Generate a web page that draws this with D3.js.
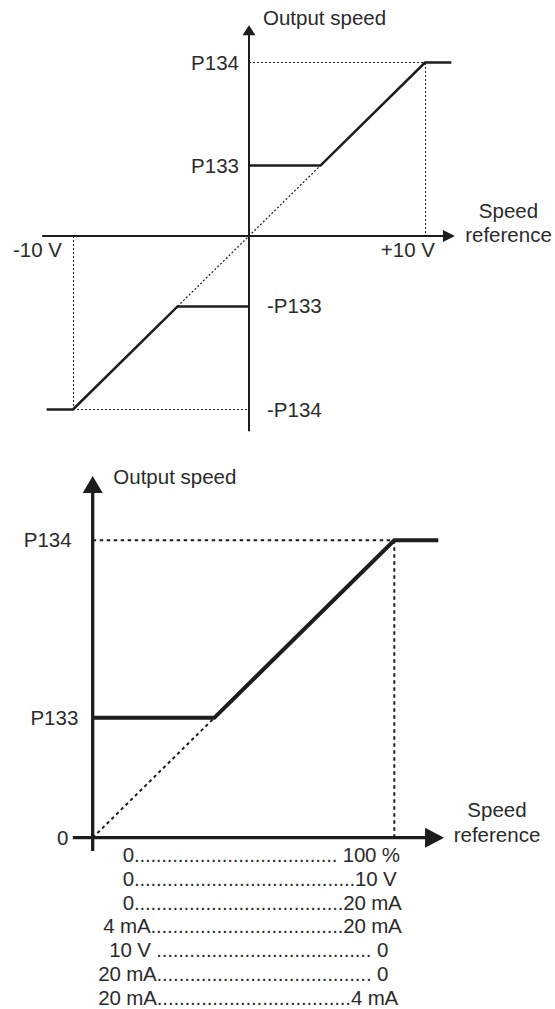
<!DOCTYPE html>
<html>
<head>
<meta charset="utf-8">
<script src="https://cdn.jsdelivr.net/npm/d3@7"></script>
<style>
  html, body { margin: 0; padding: 0; background: #fff; }
  svg { display: block; }
  text { font-family: "Liberation Sans", Arial, sans-serif; font-size: 20.5px; fill: #2b2b2b; }
</style>
</head>
<body>
<svg id="chart" width="555" height="1009"></svg>
<script>
// ---- Bipolar reference (-10 V ... +10 V) ----
// output speed in % of P134, reference in volts
const bipolarPositive = [
  { x: 0, y: 40.6 }, { x: 4.06, y: 40.6 }, { x: 10, y: 100 }, { x: 11.5, y: 100 }
];
const bipolarNegative = [
  { x: -11.5, y: -100 }, { x: -10, y: -100 }, { x: -4.06, y: -40.6 }, { x: 0, y: -40.6 }
];
const bipolarIdeal = [ { x: -4.06, y: -40.6 }, { x: 4.06, y: 40.6 } ];
const bipolarGuides = [
  [ { x: 0, y: 100 }, { x: 10, y: 100 } ],
  [ { x: 10, y: 100 }, { x: 10, y: 0 } ],
  [ { x: -10, y: 0 }, { x: -10, y: -100 } ],
  [ { x: -10, y: -100 }, { x: 0, y: -100 } ]
];
const bipolarYLabels = [
  { v: 100, text: "P134", side: "left" },
  { v: 40.6, text: "P133", side: "left" },
  { v: -40.6, text: "-P133", side: "right" },
  { v: -100, text: "-P134", side: "right" }
];
const bipolarXLabels = [ { v: -10, text: "-10 V" }, { v: 10, text: "+10 V" } ];

// ---- Unipolar reference (0 ... 100 %) ----
const unipolarCurve = [
  { x: 0, y: 40.3 }, { x: 40.3, y: 40.3 }, { x: 100, y: 100 }, { x: 114.6, y: 100 }
];
const unipolarIdeal = [ { x: 0, y: 0 }, { x: 40.3, y: 40.3 } ];
const unipolarGuides = [
  [ { x: 0, y: 100 }, { x: 100, y: 100 } ],
  [ { x: 100, y: 100 }, { x: 100, y: 0 } ]
];
const unipolarYLabels = [ { v: 100, text: "P134" }, { v: 40.3, text: "P133" }, { v: 0, text: "0" } ];
const rangeRows = [
  "0..................................... 100 %",
  "0........................................10 V",
  "0......................................20 mA",
  "4 mA...................................20 mA",
  "10 V ....................................... 0",
  "20 mA....................................... 0",
  "20 mA...................................4 mA"
];

const svg = d3.select("#chart");
const ink = "#1e1c1d";

// ================= bipolar chart =================
const x1 = d3.scaleLinear().domain([-10, 10]).range([73, 425]);
const y1 = d3.scaleLinear().domain([-100, 100]).range([409.5, 62.5]);
const line1 = d3.line().x(d => x1(d.x)).y(d => y1(d.y));
const g1 = svg.append("g");

// dotted guides
g1.selectAll("path.guide").data(bipolarGuides).join("path")
  .attr("class", "guide").attr("d", line1)
  .attr("fill", "none").attr("stroke", ink).attr("stroke-width", 1)
  .attr("stroke-dasharray", "2,2").attr("shape-rendering", "crispEdges");
g1.append("path").datum(bipolarIdeal).attr("d", line1)
  .attr("fill", "none").attr("stroke", ink).attr("stroke-width", 1.2)
  .attr("stroke-dasharray", "2,2");

// axes
const ax1 = { xMin: -11.75, xTip: 11.7, yMin: -112.5, yTip: 121.5 };
const ox1 = x1(0), oy1 = y1(0);
g1.append("line").attr("x1", x1(ax1.xMin)).attr("x2", x1(ax1.xTip) - 11)
  .attr("y1", oy1).attr("y2", oy1).attr("stroke", ink).attr("stroke-width", 2);
g1.append("path")
  .attr("d", `M${x1(ax1.xTip)},${oy1} L${x1(ax1.xTip) - 12},${oy1 - 6} L${x1(ax1.xTip) - 12},${oy1 + 6} Z`)
  .attr("fill", ink);
g1.append("line").attr("x1", ox1).attr("x2", ox1)
  .attr("y1", y1(ax1.yMin)).attr("y2", y1(ax1.yTip) + 9)
  .attr("stroke", ink).attr("stroke-width", 2);
g1.append("path")
  .attr("d", `M${ox1},${y1(ax1.yTip)} L${ox1 - 6.5},${y1(ax1.yTip) + 10} L${ox1 + 6.5},${y1(ax1.yTip) + 10} Z`)
  .attr("fill", ink);

// transfer curve
[bipolarPositive, bipolarNegative].forEach(seg => {
  g1.append("path").datum(seg).attr("d", line1)
    .attr("fill", "none").attr("stroke", ink).attr("stroke-width", 2.6)
    .attr("stroke-linejoin", "miter");
});

// labels
g1.selectAll("text.ylab").data(bipolarYLabels).join("text")
  .attr("class", "ylab")
  .attr("x", d => d.side === "left" ? ox1 - 10 : ox1 + 18)
  .attr("y", d => y1(d.v) + 7)
  .attr("text-anchor", d => d.side === "left" ? "end" : "start")
  .text(d => d.text);
g1.selectAll("text.xlab").data(bipolarXLabels).join("text")
  .attr("class", "xlab")
  .attr("x", d => d.v < 0 ? x1(d.v) - 60 : x1(d.v) + 10)
  .attr("y", oy1 + 21)
  .attr("text-anchor", d => d.v < 0 ? "start" : "end")
  .text(d => d.text);
g1.append("text").attr("x", ox1 + 14).attr("y", 25).text("Output speed");
g1.append("text").attr("x", 508.5).attr("y", 218.3).attr("text-anchor", "middle").text("Speed");
g1.append("text").attr("x", 508.5).attr("y", 241.7).attr("text-anchor", "middle").text("reference");

// ================= unipolar chart =================
const x2 = d3.scaleLinear().domain([0, 100]).range([92.7, 394.3]);
const y2 = d3.scaleLinear().domain([0, 100]).range([837.7, 540.3]);
const line2 = d3.line().x(d => x2(d.x)).y(d => y2(d.y));
const g2 = svg.append("g");

g2.selectAll("path.guide").data(unipolarGuides).join("path")
  .attr("class", "guide").attr("d", line2)
  .attr("fill", "none").attr("stroke", ink).attr("stroke-width", 2)
  .attr("stroke-dasharray", "3.5,3.5");
g2.append("path").datum(unipolarIdeal).attr("d", line2)
  .attr("fill", "none").attr("stroke", ink).attr("stroke-width", 2)
  .attr("stroke-dasharray", "3.3,3.3");

const ax2 = { xMin: -6.6, xTip: 116.5, yMin: -4.5, yTip: 121.6 };
const ox2 = x2(0), oy2 = y2(0);
g2.append("line").attr("x1", x2(ax2.xMin)).attr("x2", x2(ax2.xTip) - 17)
  .attr("y1", oy2).attr("y2", oy2).attr("stroke", ink).attr("stroke-width", 3.3);
g2.append("path")
  .attr("d", `M${x2(ax2.xTip)},${oy2} L${x2(ax2.xTip) - 19},${oy2 - 10} L${x2(ax2.xTip) - 19},${oy2 + 10} Z`)
  .attr("fill", ink);
g2.append("line").attr("x1", ox2).attr("x2", ox2)
  .attr("y1", y2(ax2.yMin)).attr("y2", y2(ax2.yTip) + 15)
  .attr("stroke", ink).attr("stroke-width", 3.3);
g2.append("path")
  .attr("d", `M${ox2},${y2(ax2.yTip)} L${ox2 - 10},${y2(ax2.yTip) + 17} L${ox2 + 10},${y2(ax2.yTip) + 17} Z`)
  .attr("fill", ink);

g2.append("path").datum(unipolarCurve).attr("d", line2)
  .attr("fill", "none").attr("stroke", ink).attr("stroke-width", 4)
  .attr("stroke-linejoin", "miter");

g2.selectAll("text.ylab").data(unipolarYLabels).join("text")
  .attr("class", "ylab")
  .attr("x", (d, i) => [71.7, 78.3, 68.3][i])
  .attr("y", d => y2(d.v) + 7)
  .attr("text-anchor", "end")
  .text(d => d.text);
g2.append("text").attr("x", ox2 + 20.6).attr("y", 484).text("Output speed");
g2.append("text").attr("x", 497).attr("y", 817.3).attr("text-anchor", "middle").text("Speed");
g2.append("text").attr("x", 497).attr("y", 841.7).attr("text-anchor", "middle").text("reference");

// reference range table under the x axis
const rowSpans = [[122.7, 400], [122.7, 396.7], [122.7, 401.7], [103.3, 401.7],
                  [109.3, 388.3], [98.3, 388.3], [98.3, 398.3]];
g2.selectAll("text.row").data(rangeRows).join("text")
  .attr("class", "row")
  .attr("x", (d, i) => rowSpans[i][0])
  .attr("y", (d, i) => 861.7 + i * 23.9)
  .attr("textLength", (d, i) => rowSpans[i][1] - rowSpans[i][0])
  .attr("lengthAdjust", "spacing")
  .text(d => d);
</script>
</body>
</html>
